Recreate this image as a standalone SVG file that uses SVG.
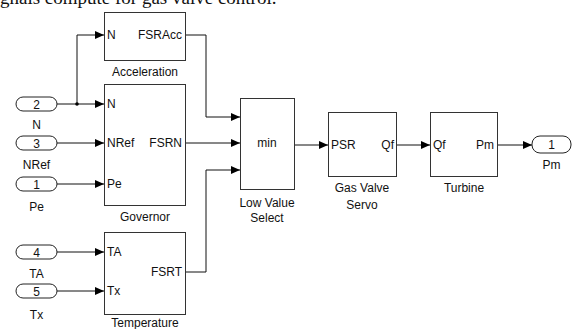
<svg xmlns="http://www.w3.org/2000/svg" width="573" height="329" viewBox="0 0 573 329">
<style>
.blk{fill:#fff;stroke:#333;stroke-width:1}
.port{fill:#fff;stroke:#222;stroke-width:1}
.w{fill:none;stroke:#111;stroke-width:1}
text{font-family:"Liberation Sans",Arial,sans-serif;font-size:12px;fill:#111}
.m{text-anchor:middle}
.e{text-anchor:end}
.top{font-family:"Liberation Serif","Times New Roman",serif;font-size:19px}
</style>
<defs>
<marker id="ah" markerWidth="9" markerHeight="8" refX="9" refY="4" orient="auto" markerUnits="userSpaceOnUse">
<path d="M0,0 L9,4 L0,8 Z" fill="#000"/>
</marker>
</defs>
<rect width="573" height="329" fill="#fff"/>
<text class="top" x="0" y="4">gnals compute for gas valve control.</text>

<g id="connectors">
<path class="w" d="M57,104 H104" marker-end="url(#ah)"/>
<path class="w" d="M77,104 V35 H104" marker-end="url(#ah)"/>
<circle cx="77" cy="104" r="1.8" fill="#000"/>
<path class="w" d="M57,143 H104" marker-end="url(#ah)"/>
<path class="w" d="M57,184 H104" marker-end="url(#ah)"/>
<path class="w" d="M57,252 H104" marker-end="url(#ah)"/>
<path class="w" d="M57,291 H104" marker-end="url(#ah)"/>
<path class="w" d="M186,35 H206 V117 H240" marker-end="url(#ah)"/>
<path class="w" d="M186,143 H240" marker-end="url(#ah)"/>
<path class="w" d="M186,272 H206 V170 H240" marker-end="url(#ah)"/>
<path class="w" d="M295,145 H328" marker-end="url(#ah)"/>
<path class="w" d="M397,145 H430" marker-end="url(#ah)"/>
<path class="w" d="M498,145 H532" marker-end="url(#ah)"/>
</g>

<g id="in2">
<rect class="port" x="16" y="97" width="41" height="14" rx="7"/>
<text class="m" x="36.5" y="108.5">2</text>
<text class="m" x="36.5" y="129">N</text>
</g>
<g id="in3">
<rect class="port" x="16" y="136" width="41" height="14" rx="7"/>
<text class="m" x="36.5" y="147.5">3</text>
<text class="m" x="36.5" y="169">NRef</text>
</g>
<g id="in1">
<rect class="port" x="16" y="177" width="41" height="14" rx="7"/>
<text class="m" x="36.5" y="188.5">1</text>
<text class="m" x="36.5" y="211">Pe</text>
</g>
<g id="in4">
<rect class="port" x="16" y="245" width="41" height="14" rx="7"/>
<text class="m" x="36.5" y="256.5">4</text>
<text class="m" x="36.5" y="278">TA</text>
</g>
<g id="in5">
<rect class="port" x="16" y="284" width="41" height="14" rx="7"/>
<text class="m" x="36.5" y="295.5">5</text>
<text class="m" x="36.5" y="319">Tx</text>
</g>

<g id="acceleration">
<rect class="blk" x="104.5" y="12.5" width="81" height="48"/>
<text x="107" y="39">N</text>
<text class="e" x="182" y="39">FSRAcc</text>
<text class="m" x="145" y="76">Acceleration</text>
</g>
<g id="governor">
<rect class="blk" x="104.5" y="84.5" width="81" height="121"/>
<text x="107" y="108">N</text>
<text x="107" y="147">NRef</text>
<text x="107" y="188">Pe</text>
<text class="e" x="182" y="147">FSRN</text>
<text class="m" x="145" y="221">Governor</text>
</g>
<g id="temperature">
<rect class="blk" x="104.5" y="232.5" width="81" height="82"/>
<text x="107" y="256">TA</text>
<text x="107" y="295">Tx</text>
<text class="e" x="182" y="276">FSRT</text>
<text class="m" x="145" y="327">Temperature</text>
</g>
<g id="lowvalue">
<rect class="blk" x="240.5" y="98.5" width="54" height="91"/>
<text class="m" x="267" y="147">min</text>
<text class="m" x="267" y="207">Low Value</text>
<text class="m" x="267" y="222">Select</text>
</g>
<g id="gasvalve">
<rect class="blk" x="328.5" y="112.5" width="68" height="64"/>
<text x="331" y="149">PSR</text>
<text class="e" x="394" y="149">Qf</text>
<text class="m" x="362" y="192">Gas Valve</text>
<text class="m" x="362" y="209">Servo</text>
</g>
<g id="turbine">
<rect class="blk" x="430.5" y="112.5" width="67" height="64"/>
<text x="433" y="149">Qf</text>
<text class="e" x="494" y="149">Pm</text>
<text class="m" x="464" y="192">Turbine</text>
</g>
<g id="out1">
<rect class="port" x="532" y="136" width="39" height="17" rx="8"/>
<text class="m" x="551.5" y="149">1</text>
<text class="m" x="551.5" y="169">Pm</text>
</g>
</svg>
